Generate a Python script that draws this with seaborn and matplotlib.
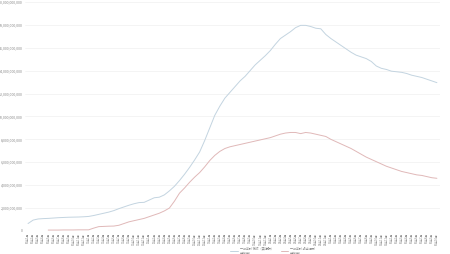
import numpy as np
import pandas as pd
import matplotlib
matplotlib.use("Agg")
import matplotlib.pyplot as plt
import seaborn as sns

# ---- data (values in 10^9) ----
periods = [f"{10 + i // 12}年{i % 12 + 1}月" for i in range(82)]
series_a_name = "一般会計 税収（実績額）\n推移(円)"
series_b_name = "一般会計 歳出 累計\n推移(円)"
series_a = [0.65, 0.95, 1.05, 1.08, 1.1, 1.13, 1.16, 1.18, 1.2, 1.21,
            1.22, 1.24, 1.27, 1.35, 1.45, 1.55, 1.65, 1.78, 1.95, 2.1,
            2.25, 2.38, 2.48, 2.5, 2.7, 2.9, 2.95, 3.15, 3.5, 3.9,
            4.4, 4.95, 5.55, 6.2, 6.9, 7.9, 9.0, 10.1, 10.9, 11.6,
            12.1, 12.6, 13.1, 13.5, 14.0, 14.5, 14.9, 15.3, 15.75, 16.3,
            16.8, 17.1, 17.4, 17.75, 17.95, 17.95, 17.85, 17.7, 17.65, 17.15,
            16.8, 16.5, 16.2, 15.9, 15.6, 15.35, 15.2, 15.05, 14.8, 14.4,
            14.2, 14.1, 13.95, 13.9, 13.85, 13.75, 13.6, 13.5, 13.4, 13.25,
            13.1, 12.95]
series_b = [None, None, None, None, 0.08, 0.08, 0.08, 0.09, 0.09, 0.09,
            0.1, 0.1, 0.1, 0.25, 0.38, 0.4, 0.42, 0.43, 0.5, 0.65,
            0.8, 0.9, 1.0, 1.1, 1.25, 1.4, 1.55, 1.75, 2.0, 2.6,
            3.3, 3.75, 4.25, 4.7, 5.1, 5.6, 6.15, 6.6, 6.95, 7.2,
            7.35, 7.45, 7.55, 7.65, 7.75, 7.85, 7.95, 8.05, 8.15, 8.3,
            8.45, 8.55, 8.6, 8.6, 8.5, 8.6, 8.55, 8.45, 8.35, 8.25,
            8.0, 7.8, 7.6, 7.4, 7.2, 6.95, 6.7, 6.45, 6.25, 6.05,
            5.85, 5.65, 5.5, 5.35, 5.2, 5.1, 5.0, 4.9, 4.85, 4.75,
            4.65, 4.6]
y_ticks = [0, 2e9, 4e9, 6e9, 8e9, 10e9, 12e9, 14e9, 16e9, 18e9, 20e9]

sns.set_theme(style="white")
plt.rcParams['font.family'] = ['Noto Sans CJK JP', 'DejaVu Sans']

df = pd.DataFrame({
    "idx": list(range(len(periods))) * 2,
    "value": [v * 1e9 for v in series_a] + [np.nan if v is None else v * 1e9 for v in series_b],
    "series": [series_a_name] * len(periods) + [series_b_name] * len(periods),
})

fig = plt.figure(figsize=(4.5, 2.54), dpi=100)
ax = fig.add_axes([0.0556, 0.0906, 0.922, 0.902])
sns.lineplot(data=df, x="idx", y="value", hue="series",
             palette=["#c3d4e0", "#e0b8b8"], linewidth=0.7, ax=ax, legend=True)

ax.set_xlim(-0.6, len(periods) - 0.4)
ax.set_ylim(0, 20e9)
ax.set_yticks(y_ticks)
ax.set_yticklabels([f"{int(t):,}" for t in y_ticks], fontsize=2.6, color="#888888")
ax.set_xticks(range(len(periods)))
ax.set_xticklabels(periods, rotation=90, fontsize=2.0, color="#888888")
ax.tick_params(axis="both", length=0, pad=1.5)
ax.grid(axis="y", color="#f0f0f0", linewidth=0.5)
ax.set_xlabel("")
ax.set_ylabel("")
for s in ax.spines.values():
    s.set_visible(False)

leg = ax.legend(loc="upper left", bbox_to_anchor=(0.495, -0.068), ncol=2,
                frameon=False, fontsize=2.2, handlelength=2.5, columnspacing=2.5,
                handletextpad=0.5, borderpad=0, borderaxespad=0)
for t in leg.get_texts():
    t.set_color("#888888")

fig.savefig("out.png", dpi=100)
